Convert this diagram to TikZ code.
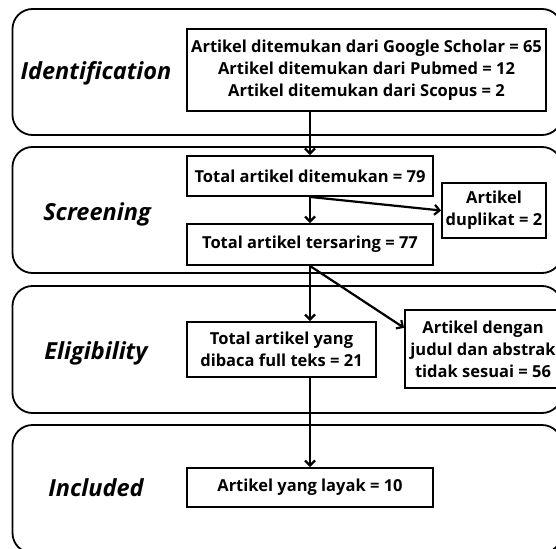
\documentclass[tikz,border=0pt]{standalone}
\usepackage{fontspec}
\setmainfont{Open Sans}
\usetikzlibrary{arrows.meta}
\tikzset{
  stage/.style={draw=black, line width=1.8pt, rounded corners=20pt},
  stagelabel/.style={font=\fontsize{23.5}{28}\selectfont\bfseries\itshape, anchor=center},
  boxnode/.style={draw=black, line width=1.9pt, align=center, inner sep=0pt,
    font=\fontsize{16.5}{22}\selectfont\bfseries},
  flow/.style={line width=2.2pt, -{Straight Barb[length=5pt,width=10pt,line width=2.2pt]}},
}
\begin{document}
\begin{tikzpicture}[x=1pt, y=-1pt]
\useasboundingbox (0,0) rectangle (556,548);

% stage frames
\draw[stage] (12.5,9)   rectangle (562,135);
\draw[stage] (12.5,147) rectangle (562,273);
\draw[stage] (12.5,286) rectangle (562,413);
\draw[stage] (12.5,425) rectangle (562,553);

% stage names
\node[stagelabel] (lblId)  at (96,73)  {Identification};
\node[stagelabel] (lblScr) at (97,214) {Screening};
\node[stagelabel] (lblEli) at (96,353) {Eligibility};
\node[stagelabel] (lblInc) at (96,488) {Included};

% boxes
\node[boxnode, minimum width=359pt, minimum height=82pt] (src) at (366.5,70)
  {Artikel ditemukan dari Google Scholar = 65\\Artikel ditemukan dari Pubmed = 12\\Artikel ditemukan dari Scopus = 2};
\node[boxnode, minimum width=246pt, minimum height=40pt] (tot79) at (310,176)
  {Total artikel ditemukan = 79};
\node[boxnode, minimum width=104pt, minimum height=55pt] (dup) at (494,210.5)
  {Artikel\\duplikat = 2};
\node[boxnode, minimum width=246pt, minimum height=41pt] (tot77) at (310,244.5)
  {Total artikel tersaring = 77};
\node[boxnode, minimum width=189pt, minimum height=55pt] (tot21) at (281.5,349.5)
  {Total artikel yang\\dibaca full teks = 21};
\node[boxnode, minimum width=156pt, minimum height=78pt] (abs56) at (483,349)
  {Artikel dengan\\judul dan abstrak\\tidak sesuai = 56};
\node[boxnode, minimum width=246pt, minimum height=39pt] (final10) at (310,487.5)
  {Artikel yang layak = 10};

% connectors
\draw[flow] (tot79.north |- src.south) -- (tot79.north);
\draw[flow] (tot79.south) -- (tot77.north);
\draw[flow] (tot79.south) -- (dup.west);
\draw[flow] (tot77.south) -- (tot21.north -| tot77.south);
\draw[flow] (tot77.south) -- (abs56.165);
\draw[flow] (tot21.south -| final10.north) -- (final10.north);
\end{tikzpicture}
\end{document}
